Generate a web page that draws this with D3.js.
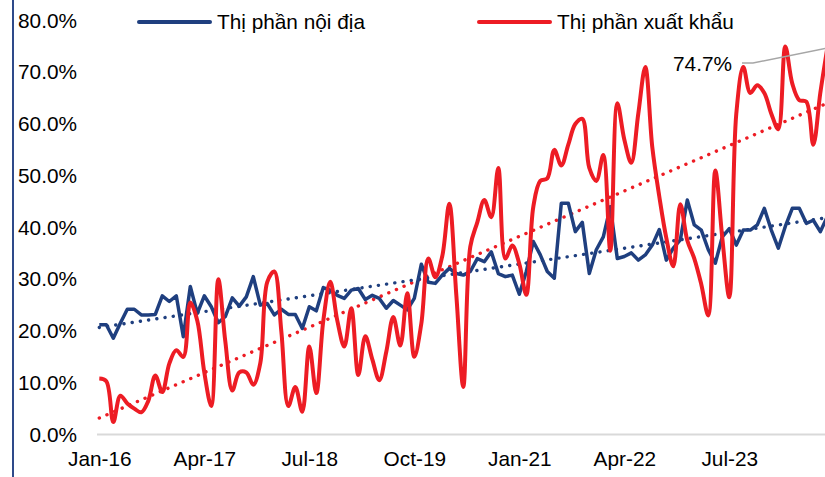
<!DOCTYPE html>
<meta charset="utf-8" />
<title>Thị phần nội địa và xuất khẩu</title>
<style>
  body {
    margin: 0;
    background: #fff;
  }

  text {
    font-family: "Liberation Sans", Arial, sans-serif;
    font-size: 20.8px;
    fill: #000;
  }

  .trend {
    fill: none;
    stroke-width: 3.4;
    stroke-linecap: round;
    stroke-dasharray: 0.1 8.2;
  }
</style>

<body>
  <script src="https://d3js.org/d3.v7.min.js"></script>
  <script>
    // monthly shares (%), Jan-16 .. Sep-24
    var domestic = [
      21.2, 21.2, 18.6, 21.5, 24.2, 24.2, 23.1, 23.1, 23.2, 26.8, 25.7, 26.8,
      18.9, 28.6, 23.4, 26.8, 24.7, 21.6, 22.8, 26.4, 24.8, 26.6, 30.5, 25.0,
      25.3, 23.1, 24.2, 23.2, 23.2, 20.5, 24.7, 23.9, 28.4, 27.9, 26.9, 26.3,
      27.9, 28.2, 26.1, 26.9, 26.3, 24.4, 25.9, 25.0, 24.1, 26.3, 32.9, 29.4,
      29.2, 30.8, 32.1, 31.1, 30.8, 31.5, 34.0, 33.4, 35.3, 31.1, 30.5, 30.8,
      27.1, 31.5, 37.3, 34.7, 31.5, 30.2, 44.7, 44.7, 39.2, 41.0, 31.1, 35.7,
      38.2, 44.0, 34.0, 34.4, 35.1, 33.7, 34.7, 36.6, 39.6, 33.7, 36.0, 37.6,
      45.3, 40.5, 39.5, 35.7, 33.1, 38.2, 39.8, 36.6, 39.5, 39.5, 40.5, 43.7,
      39.5, 36.0, 40.2, 43.7, 43.7, 40.8, 41.4, 39.2, 42.1
    ];

    var exportShare = [
      10.8, 10.3, 2.4, 7.5, 6.0, 5.0, 4.3, 6.5, 11.4, 8.2, 13.7, 16.3,
      15.0, 25.5, 22.0, 12.0, 5.5, 30.0, 18.0, 8.5, 12.0, 12.0, 9.6, 13.8,
      29.5, 31.5, 20.0, 5.5, 9.2, 4.4, 17.0, 8.0, 22.0, 29.5, 22.0, 17.0,
      24.4, 11.5, 19.0, 14.5, 10.5, 16.0, 22.7, 17.2, 27.3, 15.0, 21.4, 34.0,
      30.4, 34.5, 44.6, 27.0, 9.2, 36.3, 41.0, 45.3, 42.0, 51.5, 34.0, 36.5,
      33.0, 27.0, 44.0, 49.0, 49.5, 55.0, 52.0, 56.0, 60.0, 61.0, 51.5, 49.0,
      54.0, 35.5, 64.0, 57.0, 52.5, 62.0, 71.0, 55.5, 46.0, 38.0, 32.5, 44.5,
      37.5, 34.0, 29.0, 23.0, 51.0, 38.0, 26.5, 62.0, 71.0, 66.0, 67.5, 66.0,
      62.0, 59.0, 75.0, 67.8, 64.6, 64.3, 56.0, 66.0, 74.7
    ];

    var seriesNames = ["Thị phần nội địa", "Thị phần xuất khẩu"];
    var xTickLabels = ["Jan-16", "Apr-17", "Jul-18", "Oct-19", "Jan-21", "Apr-22", "Jul-23"];
    var yTicks = [0, 10, 20, 30, 40, 50, 60, 70, 80];

    var blue = "#1f3f7f",
      red = "#ed1c24";

    var width = 825,
      height = 477;

    // month categories
    var fmt = d3.timeFormat("%b-%y");
    var months = d3.timeMonth
      .range(new Date(2016, 0, 1), new Date(2024, 9, 1))
      .map(fmt);

    var svg = d3
      .select("body")
      .append("svg")
      .attr("width", width)
      .attr("height", height);

    var x = d3.scalePoint().domain(months).range([99.3, 827.3]);
    var y = d3.scaleLinear().domain([0, 80]).range([434.5, 20.5]);

    // left frame line
    svg
      .append("line")
      .attr("x1", 13)
      .attr("x2", 13)
      .attr("y1", 0)
      .attr("y2", height)
      .attr("stroke", "#2e4a8a")
      .attr("stroke-width", 2);

    // baseline
    svg
      .append("line")
      .attr("x1", 97)
      .attr("x2", width)
      .attr("y1", y(0))
      .attr("y2", y(0))
      .attr("stroke", "#d9d9d9")
      .attr("stroke-width", 2);

    // y axis labels
    var yAxis = svg
      .append("g")
      .attr("transform", "translate(77,0)")
      .call(
        d3
          .axisLeft(y)
          .tickValues(yTicks)
          .tickSize(0)
          .tickPadding(0)
          .tickFormat(function(d) {
            return d.toFixed(1) + "%";
          })
      );
    yAxis.select(".domain").remove();
    yAxis.selectAll("text").attr("font-size", null).attr("font-family", null);

    // x axis labels
    var xAxis = svg
      .append("g")
      .attr("transform", "translate(0," + y(0) + ")")
      .call(d3.axisBottom(x).tickValues(xTickLabels).tickSize(0).tickPadding(17));
    xAxis.select(".domain").remove();
    xAxis.selectAll("text").attr("font-size", null).attr("font-family", null);

    // least squares trend
    function trend(vals) {
      var n = vals.length,
        mx = (n - 1) / 2,
        my = d3.mean(vals),
        sxy = 0,
        sxx = 0;
      vals.forEach(function(v, i) {
        sxy += (i - mx) * (v - my);
        sxx += (i - mx) * (i - mx);
      });
      var b = sxy / sxx,
        a = my - b * mx;
      return [
        [months[0], a],
        [months[n - 1], a + b * (n - 1)]
      ];
    }

    var line = d3
      .line()
      .x(function(d) {
        return x(d[0]);
      })
      .y(function(d) {
        return y(d[1]);
      });

    svg
      .append("path")
      .attr("class", "trend")
      .attr("stroke", red)
      .attr("d", line(trend(exportShare)));

    svg
      .append("path")
      .attr("class", "trend")
      .attr("stroke", blue)
      .attr("d", line(trend(domestic)));

    // series
    svg
      .append("path")
      .datum(domestic.map(function(v, i) { return [months[i], v]; }))
      .attr("fill", "none")
      .attr("stroke", blue)
      .attr("stroke-width", 3.5)
      .attr("stroke-linejoin", "round")
      .attr("d", line);

    svg
      .append("path")
      .datum(exportShare.map(function(v, i) { return [months[i], v]; }))
      .attr("fill", "none")
      .attr("stroke", red)
      .attr("stroke-width", 4)
      .attr("d", line.curve(d3.curveCatmullRom));

    // last value callout
    var last = exportShare.length - 1;
    svg
      .append("path")
      .attr("fill", "none")
      .attr("stroke", "#a6a6a6")
      .attr("stroke-width", 1.5)
      .attr("d", "M742,63H753L" + x(months[last]) + "," + y(exportShare[last]));
    svg
      .append("text")
      .attr("x", 732)
      .attr("y", 64)
      .attr("dy", "0.35em")
      .attr("text-anchor", "end")
      .text(d3.format(".1f")(exportShare[last]) + "%");

    // legend
    var legend = svg
      .selectAll(".legend")
      .data(seriesNames)
      .enter()
      .append("g")
      .attr("class", "legend")
      .attr("transform", function(d, i) {
        return "translate(" + [139, 479][i] + ",22)";
      });
    legend
      .append("line")
      .attr("x2", 71)
      .attr("stroke", function(d, i) {
        return [blue, red][i];
      })
      .attr("stroke-width", 4)
      .attr("stroke-linecap", "round");
    legend
      .append("text")
      .attr("x", 78)
      .attr("dy", "0.35em")
      .text(function(d) {
        return d;
      });
  </script>
</body>
